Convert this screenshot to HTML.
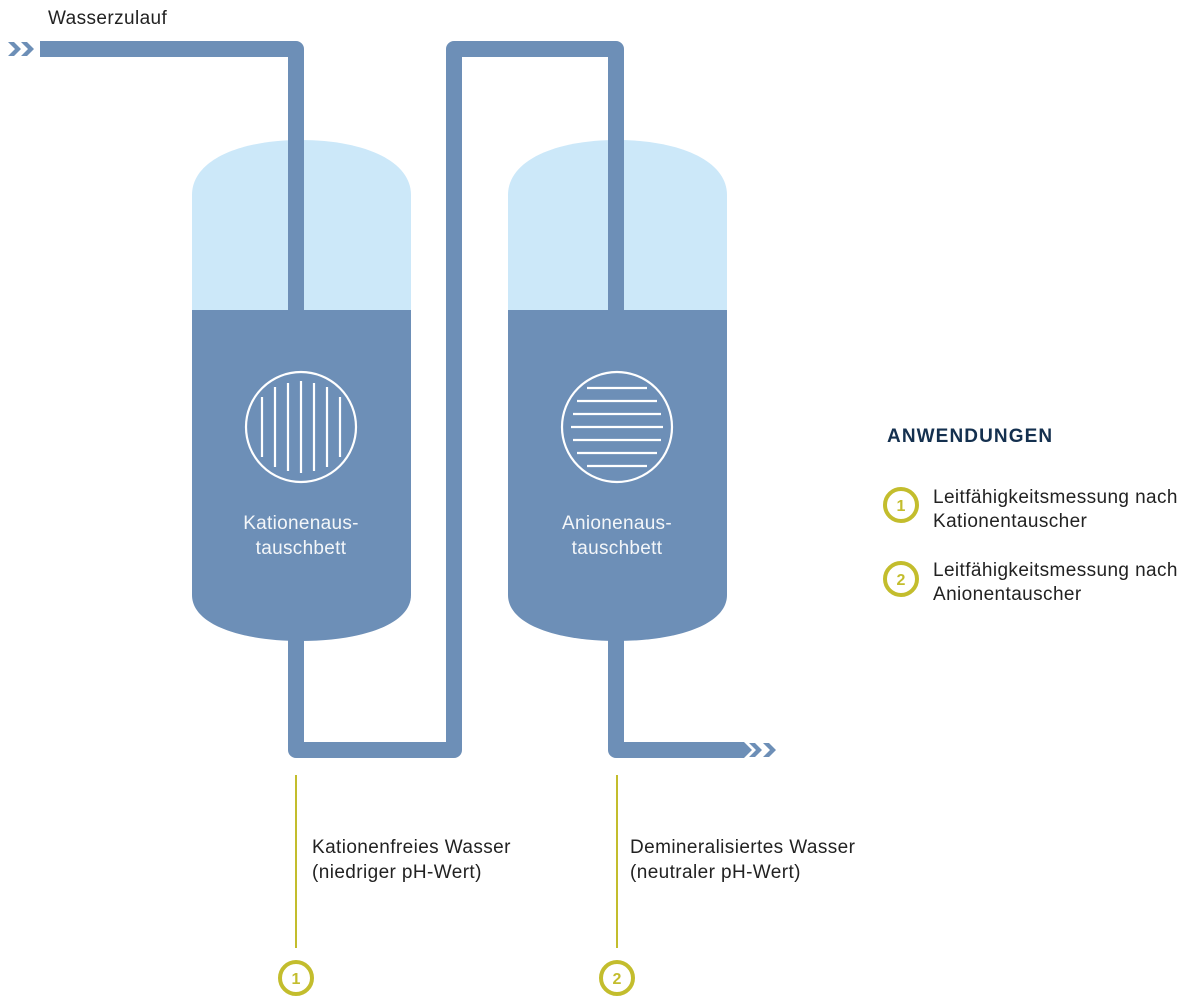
<!DOCTYPE html>
<html><head><meta charset="utf-8"><style>
html,body{margin:0;padding:0;background:#fff;}
svg{display:block;}
text{font-family:"Liberation Sans",sans-serif;}
</style></head><body>
<svg width="1200" height="1000" viewBox="0 0 1200 1000" xmlns="http://www.w3.org/2000/svg">
<g fill="#cce8f9">
<path d="M192,310 L192,195 C192,160 240,140 301,140 C362,140 411,160 411,195 L411,310 Z"/>
<path d="M508,310 L508,195 C508,160 556,140 617,140 C678,140 727,160 727,195 L727,310 Z"/>
</g>
<g fill="#6d8fb7">
<path d="M192,310 L411,310 L411,595 C411,625 360,641 301,641 C242,641 192,625 192,595 Z"/>
<path d="M508,310 L727,310 L727,595 C727,625 676,641 617,641 C558,641 508,625 508,595 Z"/>
</g>
<g fill="none" stroke="#6d8fb7" stroke-width="16" stroke-linejoin="round">
<path d="M40,49 H296 V312"/>
<path d="M296,639 V750 H454 V49 H616 V312"/>
<path d="M616,639 V750 H738"/>
</g>
<g fill="#6d8fb7">
<polygon points="8,42 14,42 21,49 14,56 8,56 15,49"/>
<polygon points="21,42 27,42 34,49 27,56 21,56 28,49"/>
<polygon points="738,742 744,742 752,750 744,758 738,758 738,742"/>
<polygon points="749,743 755,743 762,750 755,757 749,757 756,750"/>
<polygon points="763,743 769,743 776,750 769,757 763,757 770,750"/>
</g>
<g fill="none" stroke="#fff" stroke-width="2.2">
<circle cx="301" cy="427" r="55"/>
<circle cx="617" cy="427" r="55"/>
<line x1="262" y1="397" x2="262" y2="457"/>
<line x1="275" y1="387" x2="275" y2="467"/>
<line x1="288" y1="383" x2="288" y2="471"/>
<line x1="301" y1="381" x2="301" y2="473"/>
<line x1="314" y1="383" x2="314" y2="471"/>
<line x1="327" y1="387" x2="327" y2="467"/>
<line x1="340" y1="397" x2="340" y2="457"/>
<line x1="587" y1="388" x2="647" y2="388"/>
<line x1="577" y1="401" x2="657" y2="401"/>
<line x1="573" y1="414" x2="661" y2="414"/>
<line x1="571" y1="427" x2="663" y2="427"/>
<line x1="573" y1="440" x2="661" y2="440"/>
<line x1="577" y1="453" x2="657" y2="453"/>
<line x1="587" y1="466" x2="647" y2="466"/>
</g>
<g fill="#fff" font-size="19" text-anchor="middle" opacity="0.92" letter-spacing="0.3">
<text x="301" y="529">Kationenaus-</text>
<text x="301" y="554">tauschbett</text>
<text x="617" y="529">Anionenaus-</text>
<text x="617" y="554">tauschbett</text>
</g>
<g stroke="#c3bd2d" fill="none">
<line x1="296" y1="775" x2="296" y2="948" stroke-width="2"/>
<line x1="617" y1="775" x2="617" y2="948" stroke-width="2"/>
<circle cx="296" cy="978" r="16" stroke-width="4"/>
<circle cx="617" cy="978" r="16" stroke-width="4"/>
<circle cx="901" cy="505" r="16" stroke-width="4"/>
<circle cx="901" cy="579" r="16" stroke-width="4"/>
</g>
<g fill="#c3bd2d" font-size="16" font-weight="bold" text-anchor="middle">
<text x="296" y="984">1</text>
<text x="617" y="984">2</text>
<text x="901" y="511">1</text>
<text x="901" y="585">2</text>
</g>
<g fill="#222" font-size="19" letter-spacing="0.4">
<text x="48" y="24">Wasserzulauf</text>
<text x="312" y="853">Kationenfreies Wasser</text>
<text x="312" y="878">(niedriger pH-Wert)</text>
<text x="630" y="853">Demineralisiertes Wasser</text>
<text x="630" y="878">(neutraler pH-Wert)</text>
<text x="933" y="503">Leitfähigkeitsmessung nach</text>
<text x="933" y="527">Kationentauscher</text>
<text x="933" y="576">Leitfähigkeitsmessung nach</text>
<text x="933" y="600">Anionentauscher</text>
</g>
<text x="887" y="442" fill="#14304f" font-size="19" font-weight="bold" letter-spacing="1.1">ANWENDUNGEN</text>
</svg>
</body></html>
